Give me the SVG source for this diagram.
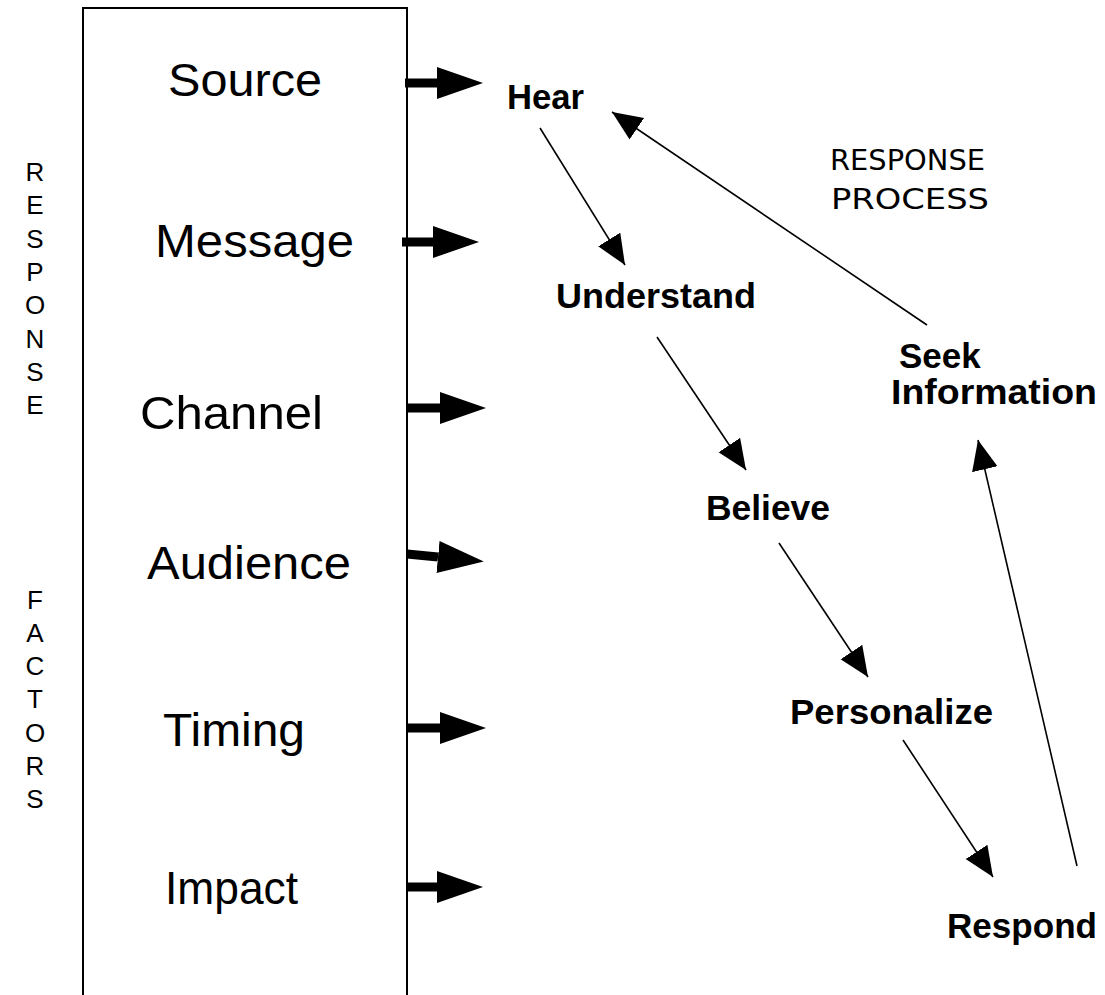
<svg xmlns="http://www.w3.org/2000/svg" width="1105" height="995" viewBox="0 0 1105 995">
<style>
.reg{font-family:"Liberation Sans",Arial,sans-serif;font-size:47px;fill:#000}
.bold{font-family:"Liberation Sans",Arial,sans-serif;font-size:35px;font-weight:bold;fill:#000}
.vert{font-family:"Liberation Sans",Arial,sans-serif;font-size:26px;fill:#000;text-anchor:middle}
.title{font-family:"DejaVu Sans",Verdana,sans-serif;font-size:28px;fill:#000}
.thin{stroke:#000;stroke-width:1.6;fill:none;marker-end:url(#thinhead)}
.thick{stroke:#000;stroke-width:9;fill:none;marker-end:url(#bighead)}
</style>
<defs>
<marker id="thinhead" markerUnits="userSpaceOnUse" markerWidth="32" markerHeight="28" refX="30" refY="13" orient="auto" viewBox="0 0 32 28">
<path d="M0,0 L30,13 L0,26 z" fill="#000"/>
</marker>
<marker id="bighead" markerUnits="userSpaceOnUse" markerWidth="48" markerHeight="34" refX="0" refY="16" orient="auto" viewBox="0 0 48 34">
<path d="M0,0 L46,16 L0,32 z" fill="#000"/>
</marker>
</defs>
<rect width="1105" height="995" fill="#fff"/>
<g id="factors-box">
<path d="M83,996 V8 H407 V996" fill="none" stroke="#000" stroke-width="2"/>
<text class="reg" x="168" y="96" textLength="154" lengthAdjust="spacingAndGlyphs">Source</text>
<text class="reg" x="155" y="257" textLength="199" lengthAdjust="spacingAndGlyphs">Message</text>
<text class="reg" x="140" y="429" textLength="183" lengthAdjust="spacingAndGlyphs">Channel</text>
<text class="reg" x="147" y="579" textLength="204" lengthAdjust="spacingAndGlyphs">Audience</text>
<text class="reg" x="163" y="746" textLength="142" lengthAdjust="spacingAndGlyphs">Timing</text>
<text class="reg" x="165" y="904" textLength="133" lengthAdjust="spacingAndGlyphs">Impact</text>
</g>
<g id="response-factors-label">
<text class="vert" x="35" y="181">R</text>
<text class="vert" x="35" y="214">E</text>
<text class="vert" x="35" y="248">S</text>
<text class="vert" x="35" y="281">P</text>
<text class="vert" x="35" y="314">O</text>
<text class="vert" x="35" y="348">N</text>
<text class="vert" x="35" y="381">S</text>
<text class="vert" x="35" y="414">E</text>
<text class="vert" x="35" y="609">F</text>
<text class="vert" x="35" y="642">A</text>
<text class="vert" x="35" y="675">C</text>
<text class="vert" x="35" y="708">T</text>
<text class="vert" x="35" y="742">O</text>
<text class="vert" x="35" y="775">R</text>
<text class="vert" x="35" y="808">S</text>
</g>
<g id="response-process-label">
<text class="title" x="830" y="170" textLength="155" lengthAdjust="spacingAndGlyphs">RESPONSE</text>
<text class="title" x="831" y="209" textLength="158" lengthAdjust="spacingAndGlyphs">PROCESS</text>
</g>
<g id="hear"><text class="bold" x="507" y="109" textLength="77" lengthAdjust="spacingAndGlyphs">Hear</text></g>
<g id="understand"><text class="bold" x="556" y="308" textLength="200" lengthAdjust="spacingAndGlyphs">Understand</text></g>
<g id="believe"><text class="bold" x="706" y="520" textLength="124" lengthAdjust="spacingAndGlyphs">Believe</text></g>
<g id="personalize"><text class="bold" x="790" y="724" textLength="203" lengthAdjust="spacingAndGlyphs">Personalize</text></g>
<g id="respond"><text class="bold" x="947" y="938" textLength="150" lengthAdjust="spacingAndGlyphs">Respond</text></g>
<g id="seek-information">
<text class="bold" x="899" y="368">Seek</text>
<text class="bold" x="891" y="404" textLength="206" lengthAdjust="spacingAndGlyphs">Information</text>
</g>
<g id="connectors">
<line class="thick" x1="405" y1="83" x2="437" y2="83"/>
<line class="thick" x1="402" y1="242" x2="433" y2="242"/>
<line class="thick" x1="407" y1="408" x2="440" y2="408"/>
<line class="thick" x1="407" y1="554" x2="438" y2="557"/>
<line class="thick" x1="407" y1="728" x2="440" y2="728"/>
<line class="thick" x1="407" y1="887" x2="437" y2="887"/>
<line class="thin" x1="540" y1="128" x2="625" y2="265"/>
<line class="thin" x1="657" y1="337" x2="746" y2="470"/>
<line class="thin" x1="779" y1="543" x2="868" y2="677"/>
<line class="thin" x1="903" y1="740" x2="993" y2="877"/>
<line class="thin" x1="1077" y1="866" x2="978" y2="440"/>
<line class="thin" x1="927" y1="325" x2="612" y2="112"/>
</g>
</svg>
